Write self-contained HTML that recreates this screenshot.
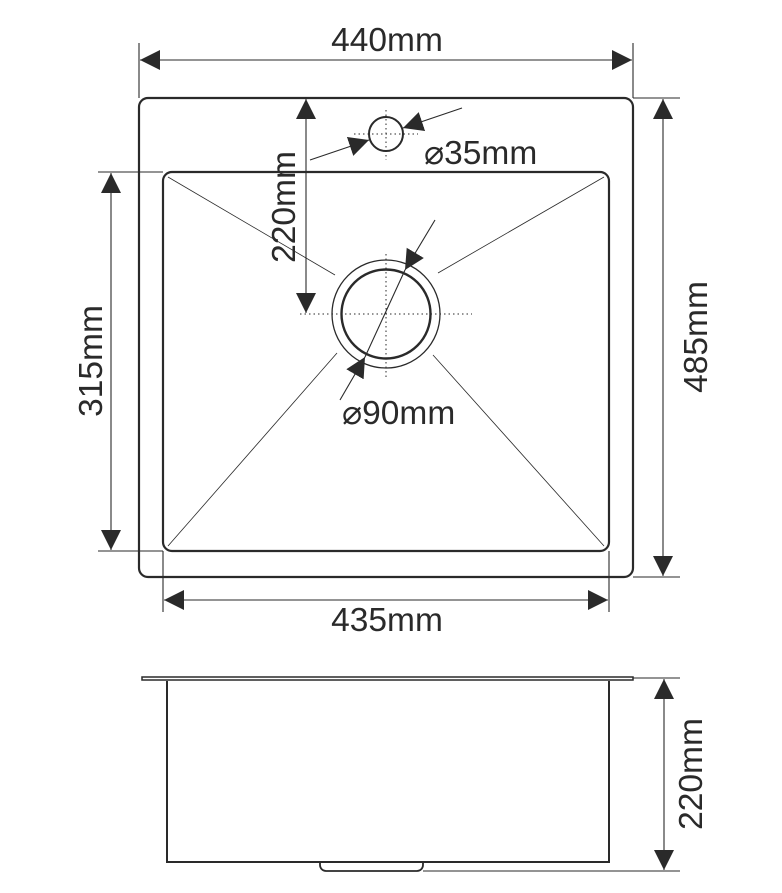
<!DOCTYPE html>
<html><head><style>
html,body{margin:0;padding:0;background:#fff;}
svg{display:block;}
text{font-family:"Liberation Sans",Arial,sans-serif;fill:#2a2a2a;}
</style></head><body>
<svg width="782" height="893" viewBox="0 0 782 893" xmlns="http://www.w3.org/2000/svg">
<defs>
<marker id="a" markerWidth="20" markerHeight="20" refX="20" refY="10" orient="auto-start-reverse" markerUnits="userSpaceOnUse">
<path d="M0,0 L20,10 L0,20 Z" fill="#2a2a2a"/>
</marker>
</defs>
<g stroke="#2a2a2a" fill="none">
<rect x="139" y="98" width="494" height="479" rx="9" stroke-width="2.2"/>
<rect x="163" y="172" width="446" height="379" rx="9" stroke-width="2.2"/>
<g stroke-width="0.8">
<line x1="168" y1="177" x2="335" y2="275"/>
<line x1="604" y1="177" x2="438" y2="273"/>
<line x1="168" y1="546" x2="337" y2="353"/>
<line x1="604" y1="546" x2="433" y2="355"/>
</g>
<circle cx="386" cy="314" r="54" stroke-width="1.3"/>
<circle cx="386" cy="314" r="44.5" stroke-width="2.4"/>
<g stroke-width="1" stroke-dasharray="1.5,3">
<line x1="300" y1="314" x2="472" y2="314"/>
<line x1="386" y1="254" x2="386" y2="378"/>
<line x1="354" y1="134" x2="418" y2="134"/>
<line x1="386" y1="110" x2="386" y2="160"/>
</g>
<circle cx="386" cy="134" r="17" stroke-width="2"/>
<g stroke-width="1.1">
<line x1="139" y1="43" x2="139" y2="98"/>
<line x1="633" y1="43" x2="633" y2="98"/>
<line x1="140" y1="60" x2="632" y2="60" marker-start="url(#a)" marker-end="url(#a)"/>
<line x1="633" y1="98" x2="680" y2="98"/>
<line x1="633" y1="577" x2="680" y2="577"/>
<line x1="663" y1="99" x2="663" y2="576" marker-start="url(#a)" marker-end="url(#a)"/>
<line x1="98" y1="172" x2="163" y2="172"/>
<line x1="98" y1="551" x2="163" y2="551"/>
<line x1="111" y1="173" x2="111" y2="550" marker-start="url(#a)" marker-end="url(#a)"/>
<line x1="163" y1="551" x2="163" y2="612"/>
<line x1="609" y1="551" x2="609" y2="612"/>
<line x1="164" y1="600" x2="608" y2="600" marker-start="url(#a)" marker-end="url(#a)"/>
<line x1="306" y1="99" x2="306" y2="313" marker-start="url(#a)" marker-end="url(#a)"/>
<line x1="310" y1="160" x2="369" y2="140" marker-end="url(#a)"/>
<line x1="462" y1="108" x2="403" y2="128" marker-end="url(#a)"/>
<line x1="435" y1="220" x2="405" y2="270" marker-end="url(#a)"/>
<line x1="405" y1="270" x2="365" y2="357" />
<line x1="340" y1="400" x2="365" y2="357" marker-end="url(#a)"/>
</g>
<rect x="142" y="677" width="491" height="3" stroke-width="1.5"/>
<path d="M167,681 V862 H609 V681" stroke-width="2"/>
<path d="M320,862 v3 a6,6 0 0 0 6,6 h91 a6,6 0 0 0 6,-6 v-3" stroke-width="1.8"/>
<g stroke-width="1.1">
<line x1="633" y1="678" x2="680" y2="678"/>
<line x1="423" y1="871" x2="680" y2="871"/>
<line x1="664" y1="679" x2="664" y2="870" marker-start="url(#a)" marker-end="url(#a)"/>
</g>
</g>
<g font-size="33.5">
<text x="387" y="51" text-anchor="middle">440mm</text>
<text x="387" y="631" text-anchor="middle">435mm</text>
<text transform="translate(707,337) rotate(-90)" text-anchor="middle">485mm</text>
<text transform="translate(102,361) rotate(-90)" text-anchor="middle">315mm</text>
<text transform="translate(295,207) rotate(-90)" text-anchor="middle">220mm</text>
<text transform="translate(702,774) rotate(-90)" text-anchor="middle">220mm</text>
<text x="424" y="164">⌀35mm</text>
<text x="342" y="424">⌀90mm</text>
</g>
</svg>
</body></html>
